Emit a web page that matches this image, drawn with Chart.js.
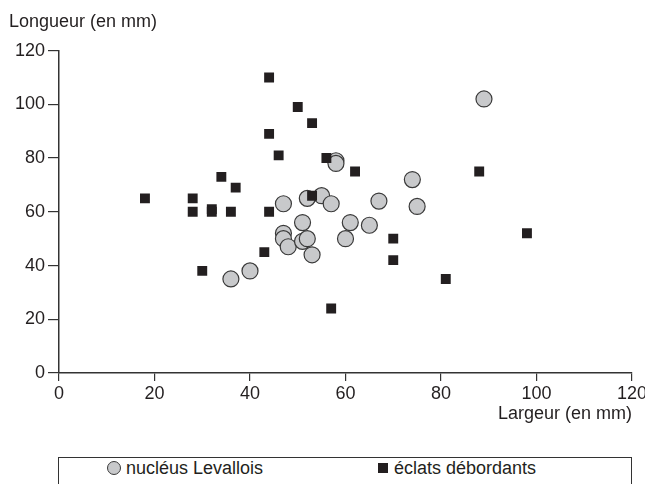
<!DOCTYPE html>
<html>
<head>
<meta charset="utf-8">
<script src="https://cdn.jsdelivr.net/npm/chart.js@4/dist/chart.umd.min.js"></script>
<style>
  body { margin: 0; background: #fff; overflow: hidden; }
  #wrap { position: relative; width: 645px; height: 484px; }
  #legend {
    position: absolute; left: 58px; top: 457px; width: 574px; height: 40px;
    border: 1px solid #333; box-sizing: border-box;
    font: 18px "Liberation Sans", Arial, sans-serif; color: #231f20;
  }
  .item { position: absolute; top: 0; height: 20px; line-height: 20px; }
  .dot { position: absolute; width: 14px; height: 14px; border-radius: 50%; background: #c8c9cb; border: 1px solid #3a3a3a; box-sizing: border-box; top: 3px; }
  .sq { position: absolute; width: 10px; height: 10px; background: #231f20; top: 5px; }
</style>
</head>
<body>
<div id="wrap">
  <canvas id="chart" width="645" height="450"></canvas>
  <div id="legend">
    <div class="item" style="left:48px"><span class="dot" style="left:0"></span><span style="position:absolute;left:19px;white-space:nowrap">nucléus Levallois</span></div>
    <div class="item" style="left:319px"><span class="sq" style="left:0"></span><span style="position:absolute;left:16px;white-space:nowrap">éclats débordants</span></div>
  </div>
</div>
<script>
    // nucléus Levallois (largeur, longueur en mm)
    const nucleusLargeur  = [36, 40, 47, 47, 47, 48, 51, 51, 52, 52, 53, 55, 57, 58, 58, 60, 61, 65, 67, 74, 75, 89];
    const nucleusLongueur = [35, 38, 63, 52, 50, 47, 56, 49, 65, 50, 44, 66, 63, 79, 78, 50, 56, 55, 64, 72, 62, 102];

    // éclats débordants
    const eclatsLargeur  = [18, 28, 28, 30, 32, 32, 34, 36, 37, 43, 44, 44, 44, 46, 50, 53, 53, 56, 57, 62, 70, 70, 81, 88, 98];
    const eclatsLongueur = [65, 65, 60, 38, 61, 60, 73, 60, 69, 45, 110, 89, 60, 81, 99, 93, 66, 80, 24, 75, 50, 42, 35, 75, 52];

    const axisTicks = [0, 20, 40, 60, 80, 100, 120];

    const fontFamily = '"Liberation Sans", Arial, sans-serif';
    const textColor = '#231f20';
    const axisColor = '#333333';

    function toPoints(xs, ys) {
        return xs.map((x, i) => ({ x: x, y: ys[i] }));
    }

    // squares first so they are drawn on top of the circles
    new Chart(document.getElementById('chart'), {
        type: 'scatter',
        data: {
            datasets: [{
                label: 'éclats débordants',
                data: toPoints(eclatsLargeur, eclatsLongueur),
                pointStyle: 'rect',
                pointRadius: 7,
                backgroundColor: '#231f20',
                borderColor: '#231f20',
                borderWidth: 0
            }, {
                label: 'nucléus Levallois',
                data: toPoints(nucleusLargeur, nucleusLongueur),
                pointStyle: 'circle',
                pointRadius: 8,
                backgroundColor: '#c8c9cb',
                borderColor: '#3a3a3a',
                borderWidth: 1.2
            }]
        },
        options: {
            responsive: false,
            animation: false,
            layout: { padding: { left: 9, right: 13, top: 0, bottom: 0 } },
            plugins: {
                legend: { display: false },
                tooltip: { enabled: false },
                title: {
                    display: true,
                    text: 'Longueur (en mm)',
                    align: 'start',
                    color: textColor,
                    font: { family: fontFamily, size: 18, weight: 'normal' },
                    padding: { top: 11, bottom: 18 }
                }
            },
            scales: {
                x: {
                    type: 'linear',
                    min: 0,
                    max: 120,
                    afterBuildTicks: s => { s.ticks = axisTicks.map(v => ({ value: v })); },
                    afterFit: s => { s.height = 77; s.paddingRight = 0; s.paddingLeft = 0; },
                    ticks: { color: textColor, font: { family: fontFamily, size: 18 }, padding: 2, maxRotation: 0 },
                    grid: { drawOnChartArea: false, drawTicks: true, tickLength: 8, color: axisColor, lineWidth: 1.2 },
                    border: { display: true, color: axisColor, width: 1.5 },
                    title: {
                        display: true,
                        text: 'Largeur (en mm)',
                        align: 'end',
                        color: textColor,
                        font: { family: fontFamily, size: 18 },
                        padding: { top: 0, bottom: 25 }
                    }
                },
                y: {
                    type: 'linear',
                    min: 0,
                    max: 120,
                    afterBuildTicks: s => { s.ticks = axisTicks.map(v => ({ value: v })); },
                    afterFit: s => { s.width = 50; },
                    ticks: { color: textColor, font: { family: fontFamily, size: 18 }, padding: 3 },
                    grid: { drawOnChartArea: false, drawTicks: true, tickLength: 11, color: axisColor, lineWidth: 1.2 },
                    border: { display: true, color: axisColor, width: 1.5 }
                }
            }
        }
    });
</script>
</body>
</html>
